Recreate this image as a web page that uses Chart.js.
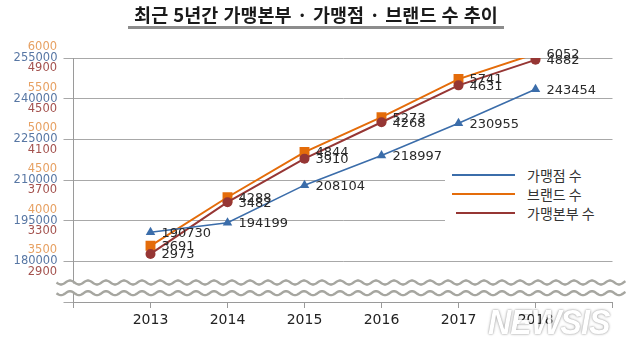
<!DOCTYPE html>
<html>
<head>
<meta charset="utf-8">
<script src="https://cdn.jsdelivr.net/npm/chart.js@4.4.1/dist/chart.umd.min.js"></script>
<style>
    html, body { margin: 0; padding: 0; background: #ffffff; }
    #wrap { position: relative; width: 640px; height: 346px; overflow: hidden; }
    #chart { position: absolute; left: 0; top: 0; }
    .title {
        position: absolute; left: 128px; top: 2px; width: 376px;
        font: bold 18.5px "Noto Sans CJK KR", sans-serif; color: #1a1a1a;
        text-align: center; white-space: nowrap; word-spacing: 1px;
        border-bottom: 3px solid #8c8c8c; line-height: 24px;
    }
    .legend { position: absolute; left: 445px; top: 163px; width: 190px; height: 62px; background: #ffffff; }
    .legend .row { position: absolute; left: 0; height: 20px; }
    .legend .swatch { position: absolute; top: 9px; height: 0; border-top: 2.5px solid; }
    .legend .label { position: absolute; left: 82px; top: 0; font: 14px "Noto Sans CJK KR", sans-serif; color: #333333; line-height: 20px; white-space: nowrap; }
    .mark {
        position: absolute; left: 488px; top: 302px;
        font: bold italic 35px "Liberation Sans", sans-serif; color: #ffffff;
        text-shadow: 0 0 2px rgba(0,0,0,0.45), 0 0 4px rgba(0,0,0,0.2);
        opacity: 0.9; transform: scaleX(0.92); transform-origin: left top; letter-spacing: -1px;
    }
</style>
</head>
<body>
<div id="wrap">
    <canvas id="chart" width="640" height="346"></canvas>
    <div class="title">최근 5년간 가맹본부 · 가맹점 · 브랜드 수 추이</div>
    <div class="legend" id="legend"></div>
    <div class="mark">NEWSIS</div>
</div>
<script>
    "use strict";

    var years = [2013, 2014, 2015, 2016, 2017, 2018];
    var storeCounts = [190730, 194199, 208104, 218997, 230955, 243454];
    var brandCounts = [3691, 4288, 4844, 5273, 5741, 6052];
    var hqCounts = [2973, 3482, 3910, 4268, 4631, 4882];

    var storeTicks = [180000, 195000, 210000, 225000, 240000, 255000];
    var brandTicks = [3500, 4000, 4500, 5000, 5500, 6000];
    var hqTicks = [2900, 3300, 3700, 4100, 4500, 4900];
    var storeMin = 165000;
    var brandMin = 3000;
    var hqMin = 2500;
    var yearMin = 2012;
    var yearMax = 2019;

    var seriesNames = ["가맹점 수", "브랜드 수", "가맹본부 수"];
    var colors = {
        store: "#3b6daa",
        brand: "#e46c0a",
        hq: "#963634"
    };

    // the two extra value axes sit a little left of the plot, in x units
    var sideAxisGap = 0.214;

    function points(values) {
        return values.map(function (v, i) {
            return { x: years[i], y: v };
        });
    }

    function tickList(minValue, list) {
        return function (scale) {
            var all = minValue === null ? list : [minValue].concat(list);
            scale.ticks = all.map(function (v) {
                return { value: v };
            });
        };
    }

    var valueLabels = {
        id: "valueLabels",
        afterDatasetsDraw: function (chart) {
            var ctx = chart.ctx;
            ctx.save();
            ctx.font = "13px 'DejaVu Sans'";
            ctx.fillStyle = "#2a2a2a";
            ctx.textAlign = "left";
            ctx.textBaseline = "middle";
            chart.data.datasets.forEach(function (ds, di) {
                var meta = chart.getDatasetMeta(di);
                meta.data.forEach(function (pt, i) {
                    ctx.fillText(String(ds.data[i].y), pt.x + 11, pt.y + 1);
                });
            });
            ctx.restore();
        }
    };

    // axis break: two wavy lines just above the x axis
    var axisBreak = {
        id: "axisBreak",
        afterDraw: function (chart) {
            var ctx = chart.ctx;
            var area = chart.chartArea;
            var left = area.left - 17;
            var right = area.right + 13;
            var rows = [area.bottom - 19.5, area.bottom - 8.8];
            ctx.save();
            ctx.fillStyle = "#ffffff";
            ctx.fillRect(left, rows[0] + 1, right - left, rows[1] - rows[0] - 2);
            ctx.strokeStyle = "#a6a6a0";
            ctx.lineWidth = 2.4;
            rows.forEach(function (y0) {
                ctx.beginPath();
                for (var x = left; x <= right; x += 1) {
                    var y = y0 + 2 * Math.sin((x - left) / 18 * Math.PI * 2);
                    if (x === left) {
                        ctx.moveTo(x, y);
                    } else {
                        ctx.lineTo(x, y);
                    }
                }
                ctx.stroke();
            });
            ctx.restore();
        }
    };

    function buildLegend() {
        var legend = document.getElementById("legend");
        var rows = [
            { name: seriesNames[0], color: colors.store, top: 2, from: 7 },
            { name: seriesNames[1], color: colors.brand, top: 21, from: 7 },
            { name: seriesNames[2], color: colors.hq, top: 40, from: 11 }
        ];
        rows.forEach(function (r) {
            var row = document.createElement("div");
            row.className = "row";
            row.style.top = r.top + "px";
            row.style.width = "190px";
            var sw = document.createElement("div");
            sw.className = "swatch";
            sw.style.left = r.from + "px";
            sw.style.width = (70 - r.from) + "px";
            sw.style.borderColor = r.color;
            var lb = document.createElement("div");
            lb.className = "label";
            lb.textContent = r.name;
            row.appendChild(sw);
            row.appendChild(lb);
            legend.appendChild(row);
        });
    }

    var tickFont = { family: "'DejaVu Sans'", size: 11.5 };

    function sideAxis(minValue, list, color, offset) {
        return {
            type: "linear",
            position: { x: yearMin - sideAxisGap },
            min: minValue,
            max: list[list.length - 1],
            afterBuildTicks: tickList(null, list),
            grid: { display: false, drawTicks: false },
            border: { display: false },
            ticks: {
                padding: 0,
                labelOffset: offset,
                color: color,
                font: tickFont,
                autoSkip: false,
                callback: function (v) { return String(v); }
            }
        };
    }

    new Chart(document.getElementById("chart").getContext("2d"), {
        type: "line",
        data: {
            datasets: [
                {
                    label: seriesNames[0],
                    data: points(storeCounts),
                    yAxisID: "yStore",
                    borderColor: colors.store,
                    backgroundColor: colors.store,
                    borderWidth: 1.6,
                    pointStyle: "triangle",
                    pointRadius: 5.5,
                    pointBorderWidth: 0
                },
                {
                    label: seriesNames[2],
                    data: points(hqCounts),
                    yAxisID: "yHq",
                    borderColor: colors.hq,
                    backgroundColor: colors.hq,
                    borderWidth: 2,
                    pointStyle: "circle",
                    pointRadius: 5,
                    pointBorderWidth: 0
                },
                {
                    label: seriesNames[1],
                    data: points(brandCounts),
                    yAxisID: "yBrand",
                    borderColor: colors.brand,
                    backgroundColor: colors.brand,
                    borderWidth: 2,
                    pointStyle: "rect",
                    pointRadius: 7,
                    pointBorderWidth: 0
                }
            ]
        },
        options: {
            responsive: false,
            animation: false,
            events: [],
            layout: { padding: { top: 58, right: 27.5, bottom: 0, left: 0 } },
            plugins: {
                legend: { display: false },
                tooltip: { enabled: false },
                title: { display: false }
            },
            scales: {
                x: {
                    type: "linear",
                    min: yearMin,
                    max: yearMax,
                    afterBuildTicks: tickList(yearMin, years.concat([yearMax])),
                    afterFit: function (scale) { scale.height = 44; },
                    grid: { display: true, drawOnChartArea: false, drawTicks: true, tickLength: 6, color: "#9a9a9a" },
                    border: { display: true, color: "#9a9a9a", width: 1 },
                    ticks: {
                        padding: 4,
                        color: "#222222",
                        font: { family: "'DejaVu Sans'", size: 14 },
                        maxRotation: 0,
                        autoSkip: false,
                        callback: function (v) {
                            return years.indexOf(v) >= 0 ? String(v) : "";
                        }
                    }
                },
                yStore: {
                    type: "linear",
                    position: "left",
                    min: storeMin,
                    max: storeTicks[storeTicks.length - 1],
                    afterBuildTicks: tickList(storeMin, storeTicks),
                    afterFit: function (scale) { scale.width = 73.5; },
                    grid: { color: "#a8a8a8", lineWidth: 1, tickLength: 10 },
                    border: { display: true, color: "#9a9a9a", width: 1 },
                    ticks: {
                        padding: 6,
                        color: "#5877a4",
                        font: tickFont,
                        autoSkip: false,
                        callback: function (v) { return v === storeMin ? "" : String(v); }
                    }
                },
                yBrand: sideAxis(brandMin, brandTicks, "#e7a163", -11),
                yHq: sideAxis(hqMin, hqTicks, "#a4524e", 10.5)
            }
        },
        plugins: [valueLabels, axisBreak]
    });

    buildLegend();
</script>
</body>
</html>
